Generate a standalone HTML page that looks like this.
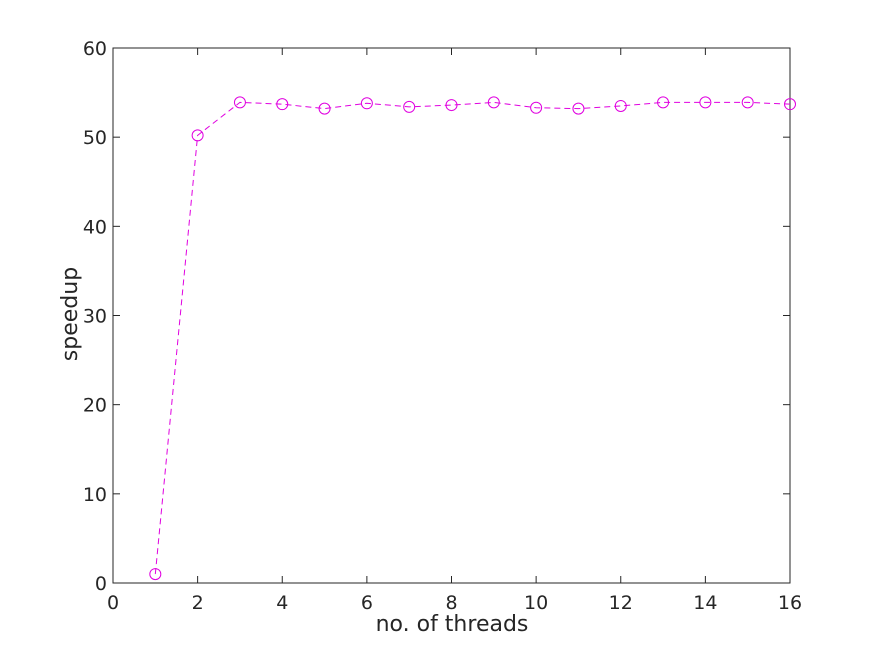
<!DOCTYPE html>
<html><head><meta charset="utf-8"><style>
html,body{margin:0;padding:0;background:#fff;}
svg{display:block;font-family:"DejaVu Sans","Liberation Sans",sans-serif;}
</style></head><body>
<svg id="chart" width="874" height="656" viewBox="0 0 874 656">
<rect x="0" y="0" width="874" height="656" fill="#fff"/>
<g id="axes"></g>
<g id="series"></g>
<text x="452" y="631" font-size="22" text-anchor="middle" fill="#262626">no. of threads</text>
<text transform="translate(77,314) rotate(-90)" font-size="22" text-anchor="middle" fill="#262626">speedup</text>
</svg>
<script>
const threads=[1,2,3,4,5,6,7,8,9,10,11,12,13,14,15,16];
const speedup=[1.0,50.2,53.9,53.7,53.2,53.8,53.4,53.6,53.9,53.3,53.2,53.5,53.9,53.9,53.9,53.7];
const xTicks=[0,2,4,6,8,10,12,14,16];
const yTicks=[0,10,20,30,40,50,60];
const L=113,R=790,T=48,B=583,XMAX=16,YMAX=60;
const NS='http://www.w3.org/2000/svg';
function sx(v){return L+(R-L)*v/XMAX;}
function sy(v){return B-(B-T)*v/YMAX;}
function mk(tag,attrs,parent){const e=document.createElementNS(NS,tag);for(const k in attrs)e.setAttribute(k,attrs[k]);parent.appendChild(e);return e;}
const ax=document.getElementById('axes');
const box=mk('rect',{x:L,y:T,width:R-L,height:B-T,fill:'none',stroke:'#262626','stroke-width':1},ax);


xTicks.forEach(v=>{
  const x=sx(v);
  const t1=mk('line',{x1:x,y1:B,x2:x,y2:B-7,stroke:'#262626'},ax);
  
  
  const t2=mk('line',{x1:x,y1:T,x2:x,y2:T+7,stroke:'#262626'},ax);
  
  
  const lb=mk('text',{x:x,y:B+26,'font-size':19,'text-anchor':'middle',fill:'#262626'},ax);
  lb.textContent=v;
  
  
});
yTicks.forEach(v=>{
  const y=sy(v);
  const t1=mk('line',{x1:L,y1:y,x2:L+7,y2:y,stroke:'#262626'},ax);
  
  
  const t2=mk('line',{x1:R,y1:y,x2:R-7,y2:y,stroke:'#262626'},ax);
  
  
  const lb=mk('text',{x:L-6,y:y+7,'font-size':19,'text-anchor':'end',fill:'#262626'},ax);
  lb.textContent=v;
  
  
});
const sg=document.getElementById('series');
const pts=threads.map((t,i)=>sx(t)+','+sy(speedup[i])).join(' ');
const line=mk('polyline',{points:pts,fill:'none',stroke:'#e000e0','stroke-width':1,'stroke-dasharray':'6,4'},sg);


threads.forEach((t,i)=>{
  const c=mk('circle',{cx:sx(t),cy:sy(speedup[i]),r:5.5,fill:'none',stroke:'#e000e0','stroke-width':1},sg);
  
  
});
</script>
</body></html>
